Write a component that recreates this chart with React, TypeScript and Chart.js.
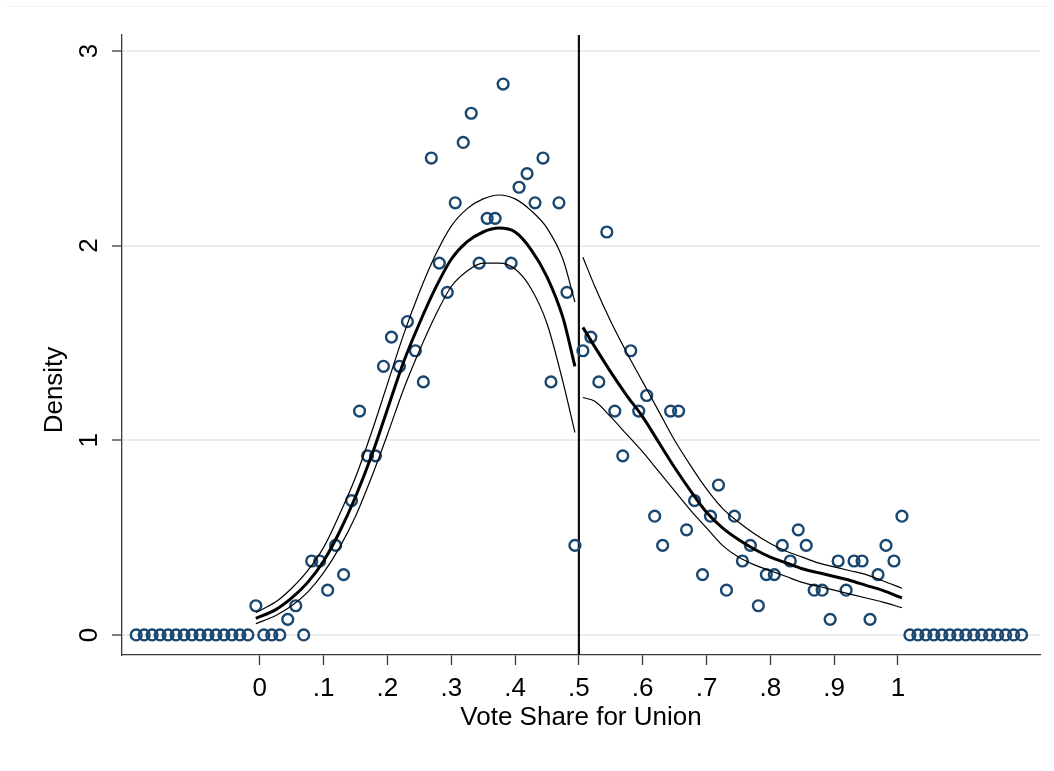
import React, { useEffect, useRef } from 'react';
import { Chart, registerables } from 'chart.js';

Chart.register(...registerables);

// ---- data ----
const BIN_WIDTH = 0.0125;
const CUTOFF = 0.5;
const LEFT_FIRST_BIN = -0.19375;
const RIGHT_FIRST_BIN = 0.50625;

// densities of bins left of the cutoff (first 15 are empty bins)
const LEFT_DENSITY = [
  0, 0, 0, 0, 0, 0, 0, 0, 0, 0, 0, 0, 0, 0, 0,
  0.15, 0, 0, 0, 0.08, 0.15, 0, 0.38, 0.38, 0.23, 0.46, 0.31, 0.69, 1.15, 0.92,
  0.92, 1.38, 1.53, 1.38, 1.61, 1.46, 1.30, 2.45, 1.91, 1.76, 2.22, 2.53, 2.68,
  1.91, 2.14, 2.14, 2.83, 1.91, 2.30, 2.37, 2.22, 2.45, 1.30, 2.22, 1.76, 0.46,
];

// densities of bins right of the cutoff (last 15 are empty bins)
const RIGHT_DENSITY = [
  1.46, 1.53, 1.30, 2.07, 1.15, 0.92, 1.46, 1.15, 1.23, 0.61, 0.46, 1.15, 1.15,
  0.54, 0.69, 0.31, 0.61, 0.77, 0.23, 0.61, 0.38, 0.46, 0.15, 0.31, 0.31, 0.46,
  0.38, 0.54, 0.46, 0.23, 0.23, 0.08, 0.38, 0.23, 0.38, 0.38, 0.08, 0.31, 0.46,
  0.38, 0.61,
  0, 0, 0, 0, 0, 0, 0, 0, 0, 0, 0, 0, 0, 0, 0,
];

const FIT_L_X = [-0.00625, 0.025, 0.05, 0.075, 0.1, 0.125, 0.15, 0.175, 0.2, 0.225, 0.25, 0.275, 0.3, 0.325, 0.35, 0.375, 0.4, 0.425, 0.45, 0.475, 0.49375];
const FIT_L = [0.085, 0.13, 0.19, 0.27, 0.38, 0.53, 0.71, 0.92, 1.16, 1.40, 1.60, 1.78, 1.93, 2.02, 2.07, 2.09, 2.07, 1.98, 1.84, 1.63, 1.38];
const FIT_L_HI = [0.115, 0.17, 0.24, 0.33, 0.45, 0.62, 0.81, 1.04, 1.29, 1.54, 1.76, 1.95, 2.10, 2.19, 2.24, 2.26, 2.24, 2.18, 2.09, 1.93, 1.71];
const FIT_L_LO = [0.058, 0.10, 0.15, 0.22, 0.32, 0.45, 0.61, 0.81, 1.03, 1.26, 1.46, 1.64, 1.79, 1.87, 1.91, 1.91, 1.88, 1.78, 1.60, 1.30, 1.04];

const FIT_R_X = [0.50625, 0.525, 0.55, 0.575, 0.6, 0.625, 0.65, 0.675, 0.7, 0.725, 0.75, 0.775, 0.8, 0.825, 0.85, 0.875, 0.9, 0.925, 0.95, 0.975, 1.00625];
const FIT_R = [1.58, 1.48, 1.35, 1.23, 1.12, 0.99, 0.86, 0.74, 0.63, 0.55, 0.49, 0.44, 0.40, 0.37, 0.34, 0.32, 0.30, 0.28, 0.255, 0.23, 0.19];
const FIT_R_HI = [1.94, 1.79, 1.61, 1.45, 1.30, 1.15, 1.00, 0.87, 0.75, 0.65, 0.58, 0.52, 0.47, 0.43, 0.40, 0.37, 0.35, 0.33, 0.31, 0.28, 0.24];
const FIT_R_LO = [1.22, 1.20, 1.12, 1.03, 0.94, 0.84, 0.74, 0.64, 0.55, 0.46, 0.40, 0.36, 0.33, 0.30, 0.27, 0.25, 0.23, 0.21, 0.19, 0.17, 0.14];

const X_TICKS = [0, 0.1, 0.2, 0.3, 0.4, 0.5, 0.6, 0.7, 0.8, 0.9, 1];
const X_TICK_LABELS = ['0', '.1', '.2', '.3', '.4', '.5', '.6', '.7', '.8', '.9', '1'];
const Y_TICKS = [0, 1, 2, 3];
const Y_TICK_LABELS = ['0', '1', '2', '3'];
const X_TITLE = 'Vote Share for Union';
const Y_TITLE = 'Density';

// ---- styling ----
const FONT = 'Liberation Sans, Arial, Helvetica, sans-serif';
const FONT_SIZE = 26;
const NAVY = '#1a476f';
const GRID = '#e6eef0';
const AXIS = '#3a3a3a';

const W = 1054;
const H = 771;

const cutoffLine = {
  id: 'cutoffLine',
  beforeDatasetsDraw(chart: any) {
    const { ctx, chartArea, scales } = chart;
    const x = scales.x.getPixelForValue(CUTOFF);
    ctx.save();
    ctx.strokeStyle = '#111';
    ctx.lineWidth = 2.2;
    ctx.beginPath();
    ctx.moveTo(x, chartArea.top);
    ctx.lineTo(x, chartArea.bottom);
    ctx.stroke();
    ctx.restore();
  },
};

// y-axis title, placed like the original (a little below the axis middle)
const yTitle = {
  id: 'yTitle',
  afterDraw(chart: any) {
    const { ctx, chartArea, scales } = chart;
    const ys = scales.y;
    const x = ys.left + 19.6;
    const y = (chartArea.top + chartArea.bottom) / 2 + 45;
    ctx.save();
    ctx.translate(x, y);
    ctx.rotate(-Math.PI / 2);
    ctx.textAlign = 'center';
    ctx.textBaseline = 'middle';
    ctx.fillStyle = '#000';
    ctx.font = `${FONT_SIZE}px ${FONT}`;
    ctx.fillText(Y_TITLE, 0, 0);
    ctx.restore();
  },
};

function zip(xs: number[], ys: number[]) {
  return xs.map((x, i) => ({ x, y: ys[i] }));
}

function lineSet(xs: number[], ys: number[], width: number) {
  return {
    type: 'scatter' as const,
    data: zip(xs, ys),
    showLine: true,
    borderColor: '#000',
    borderWidth: width,
    pointRadius: 0,
    pointHoverRadius: 0,
    fill: false,
    cubicInterpolationMode: 'monotone' as const,
  };
}

export default function App() {
  const ref = useRef<HTMLCanvasElement | null>(null);

  useEffect(() => {
    if (!ref.current) return;
    const points = [
      ...LEFT_DENSITY.map((y, i) => ({ x: LEFT_FIRST_BIN + i * BIN_WIDTH, y })),
      ...RIGHT_DENSITY.map((y, i) => ({ x: RIGHT_FIRST_BIN + i * BIN_WIDTH, y })),
    ];

    const chart = new Chart(ref.current, {
      type: 'scatter',
      data: {
        datasets: [
          lineSet(FIT_L_X, FIT_L, 3),
          lineSet(FIT_L_X, FIT_L_HI, 1.2),
          lineSet(FIT_L_X, FIT_L_LO, 1.2),
          lineSet(FIT_R_X, FIT_R, 3),
          lineSet(FIT_R_X, FIT_R_HI, 1.2),
          lineSet(FIT_R_X, FIT_R_LO, 1.2),
          {
            type: 'scatter',
            data: points,
            pointStyle: 'circle',
            pointRadius: 5.4,
            pointBorderWidth: 2.4,
            pointBorderColor: NAVY,
            pointBackgroundColor: 'rgba(0,0,0,0)',
            borderColor: NAVY,
            backgroundColor: 'rgba(0,0,0,0)',
          } as any,
        ] as any,
      },
      options: {
        responsive: false,
        animation: false,
        events: [],
        layout: { padding: { left: 35, right: 14, top: 35, bottom: 33.4 } },
        plugins: {
          legend: { display: false },
          tooltip: { enabled: false },
          title: { display: false },
        },
        scales: {
          x: {
            type: 'linear',
            min: -0.216,
            max: 1.2226,
            offset: false,
            afterBuildTicks: (s: any) => {
              s.ticks = X_TICKS.map((v) => ({ value: v }));
            },
            afterFit: (s: any) => {
              s.height = 82.6;
            },
            grid: {
              drawOnChartArea: false,
              drawTicks: true,
              tickLength: 10,
              tickColor: AXIS,
              tickWidth: 1.3,
            },
            border: { display: true, color: AXIS, width: 1.3 },
            ticks: {
              autoSkip: false,
              maxRotation: 0,
              minRotation: 0,
              padding: 8.5,
              color: '#000',
              font: { family: FONT, size: FONT_SIZE },
              callback: (v: any) => X_TICK_LABELS[X_TICKS.indexOf(Number(v))] ?? '',
            },
            title: {
              display: true,
              text: X_TITLE,
              color: '#000',
              font: { family: FONT, size: FONT_SIZE },
              padding: { top: 4, bottom: 4 },
            },
          },
          y: {
            type: 'linear',
            min: -0.103,
            max: 3.082,
            afterBuildTicks: (s: any) => {
              s.ticks = Y_TICKS.map((v) => ({ value: v }));
            },
            afterFit: (s: any) => {
              s.width = 87;
            },
            grid: {
              color: GRID,
              lineWidth: 2,
              drawTicks: true,
              tickLength: 10,
              tickColor: AXIS,
              tickWidth: 1.3,
            },
            border: { display: true, color: AXIS, width: 1.3 },
            ticks: {
              autoSkip: false,
              minRotation: 90,
              maxRotation: 90,
              crossAlign: 'center',
              padding: 15,
              color: '#000',
              font: { family: FONT, size: FONT_SIZE },
              callback: (v: any) => Y_TICK_LABELS[Y_TICKS.indexOf(Number(v))] ?? '',
            },
            title: { display: false },
          },
        },
      } as any,
      plugins: [cutoffLine, yTitle],
    });
    return () => chart.destroy();
  }, []);

  return (
    <div style={{ position: 'absolute', left: 0, top: 0, width: W, height: H, background: '#fff' }}>
      <canvas ref={ref} width={W} height={H} style={{ display: 'block', width: W, height: H }} />
      <div style={{ position: 'absolute', left: 7, top: 6, width: W - 14, height: 0, borderTop: '1px solid #edf2f4' }} />
    </div>
  );
}
